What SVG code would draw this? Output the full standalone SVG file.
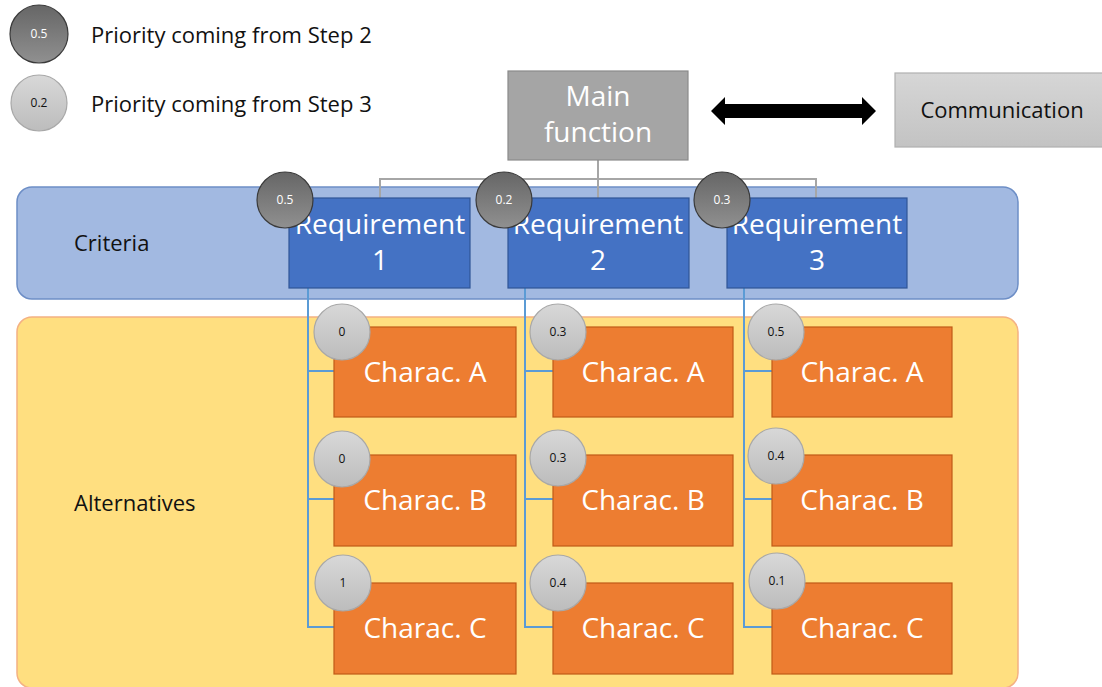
<svg xmlns="http://www.w3.org/2000/svg" width="1102" height="687" viewBox="0 0 1102 687">
<defs>
<linearGradient id="gDark" x1="0" y1="0" x2="0" y2="1"><stop offset="0" stop-color="#666666"/><stop offset="1" stop-color="#909090"/></linearGradient>
<linearGradient id="gLight" x1="0" y1="0" x2="0" y2="1"><stop offset="0" stop-color="#d8d8d8"/><stop offset="1" stop-color="#bcbcbc"/></linearGradient>
<linearGradient id="gComm" x1="0" y1="0" x2="0" y2="1"><stop offset="0" stop-color="#d6d6d6"/><stop offset="1" stop-color="#c3c3c3"/></linearGradient>
<style>
text{font-family:"Open Sans","Liberation Sans",sans-serif}
.lbl{font-size:22px;fill:#111}
.big{font-size:28px;fill:#fff;text-anchor:middle}
.req{fill:#4472c4;stroke:#2f5597;stroke-width:1.2}
.ch{fill:#ed7d31;stroke:#c05a16;stroke-width:1.2}
.dk{fill:url(#gDark);stroke:#3a3a3a;stroke-width:1.2}
.lt{fill:url(#gLight);stroke:#a8a8a8;stroke-width:1.2}
.dkt{font-size:12px;fill:#fff;text-anchor:middle}
.ltt{font-size:12px;fill:#111;text-anchor:middle}
.blue{fill:none;stroke:#5b9bd5;stroke-width:2}
.grey{fill:none;stroke:#a6a6a6;stroke-width:2}
</style>
</defs>
<rect width="1102" height="687" fill="#fff"/>

<g id="legend">
<circle cx="39" cy="34" r="29" class="dk"/>
<text x="39" y="38" class="dkt">0.5</text>
<text x="91" y="43" class="lbl">Priority coming from Step 2</text>
<circle cx="39" cy="103" r="28" class="lt"/>
<text x="39" y="107" class="ltt">0.2</text>
<text x="91" y="112" class="lbl">Priority coming from Step 3</text>
</g>

<g id="criteria">
<rect x="17" y="187" width="1001" height="112" rx="15" fill="#a2b9e1" stroke="#6d8ec6" stroke-width="1.5"/>
<text x="74" y="251" class="lbl">Criteria</text>
</g>
<g id="alternatives">
<rect x="17" y="317" width="1001" height="371" rx="15" fill="#ffdf80" stroke="#f4b183" stroke-width="1.5"/>
<text x="74" y="511" class="lbl">Alternatives</text>
</g>

<g id="connectors">
<path class="grey" d="M598 160 V179 M380 198 V179 H816 V198 M598 179 V198"/>
<path class="blue" d="M308 288 V627 H334 M308 371 H334 M308 499 H334"/>
<path class="blue" d="M525 288 V627 H553 M525 371 H553 M525 499 H553"/>
<path class="blue" d="M744 288 V627 H772 M744 371 H772 M744 499 H772"/>
<polygon id="arrow" points="711,111 725,97 725,104 862,104 862,97 876,111 862,125 862,118 725,118 725,125" fill="#000"/>
</g>

<g id="main">
<rect x="508" y="71" width="180" height="89" fill="#a5a5a5" stroke="#8a8a8a" stroke-width="1.2"/>
<text x="598" y="106" class="big">Main</text>
<text x="598" y="142" class="big">function</text>
</g>
<g id="communication">
<rect x="895" y="73" width="210" height="74" fill="url(#gComm)" stroke="#b0b0b0" stroke-width="1.2"/>
<text x="1002" y="118" class="lbl" style="text-anchor:middle">Communication</text>
</g>

<g id="req1">
<rect x="289" y="198" width="181" height="90" class="req"/>
<text x="380" y="234" class="big">Requirement</text>
<text x="380" y="270" class="big">1</text>
<circle cx="285" cy="200" r="28" class="dk"/>
<text x="285" y="204" class="dkt">0.5</text>
</g>
<g id="req2">
<rect x="508" y="198" width="181" height="90" class="req"/>
<text x="598" y="234" class="big">Requirement</text>
<text x="598" y="270" class="big">2</text>
<circle cx="504" cy="200" r="28" class="dk"/>
<text x="504" y="204" class="dkt">0.2</text>
</g>
<g id="req3">
<rect x="727" y="198" width="180" height="90" class="req"/>
<text x="817" y="234" class="big">Requirement</text>
<text x="817" y="270" class="big">3</text>
<circle cx="722" cy="200" r="28" class="dk"/>
<text x="722" y="204" class="dkt">0.3</text>
</g>

<g id="c1a"><rect x="334" y="327" width="182" height="90" class="ch"/><text x="425" y="382" class="big">Charac. A</text><circle cx="342" cy="332" r="28" class="lt"/><text x="342" y="336" class="ltt">0</text></g>
<g id="c1b"><rect x="334" y="455" width="182" height="91" class="ch"/><text x="425" y="510" class="big">Charac. B</text><circle cx="342" cy="459" r="28" class="lt"/><text x="342" y="463" class="ltt">0</text></g>
<g id="c1c"><rect x="334" y="583" width="182" height="91" class="ch"/><text x="425" y="638" class="big">Charac. C</text><circle cx="343" cy="583" r="28" class="lt"/><text x="343" y="587" class="ltt">1</text></g>

<g id="c2a"><rect x="553" y="327" width="180" height="90" class="ch"/><text x="643" y="382" class="big">Charac. A</text><circle cx="558" cy="332" r="28" class="lt"/><text x="558" y="336" class="ltt">0.3</text></g>
<g id="c2b"><rect x="553" y="455" width="180" height="91" class="ch"/><text x="643" y="510" class="big">Charac. B</text><circle cx="558" cy="458" r="28" class="lt"/><text x="558" y="462" class="ltt">0.3</text></g>
<g id="c2c"><rect x="553" y="583" width="180" height="91" class="ch"/><text x="643" y="638" class="big">Charac. C</text><circle cx="558" cy="583" r="28" class="lt"/><text x="558" y="587" class="ltt">0.4</text></g>

<g id="c3a"><rect x="772" y="327" width="180" height="90" class="ch"/><text x="862" y="382" class="big">Charac. A</text><circle cx="776" cy="332" r="28" class="lt"/><text x="776" y="336" class="ltt">0.5</text></g>
<g id="c3b"><rect x="772" y="455" width="180" height="91" class="ch"/><text x="862" y="510" class="big">Charac. B</text><circle cx="776" cy="456" r="28" class="lt"/><text x="776" y="460" class="ltt">0.4</text></g>
<g id="c3c"><rect x="772" y="583" width="180" height="91" class="ch"/><text x="862" y="638" class="big">Charac. C</text><circle cx="777" cy="581" r="28" class="lt"/><text x="777" y="585" class="ltt">0.1</text></g>
</svg>
